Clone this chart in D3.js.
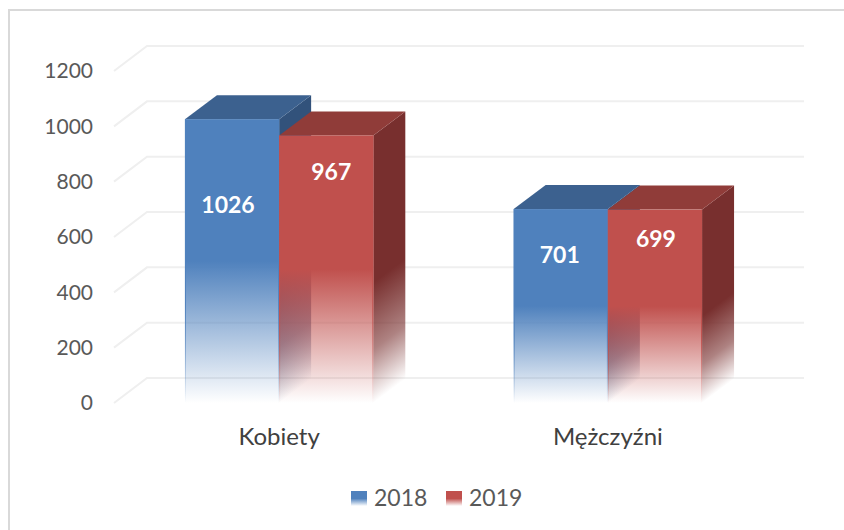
<!DOCTYPE html>
<html>
<head>
<meta charset="utf-8">
<script src="https://cdn.jsdelivr.net/npm/d3@7"></script>
<style>
  html, body { margin: 0; padding: 0; background: #fff; }
  svg { display: block; font-family: Lato, "Open Sans", sans-serif; }
</style>
</head>
<body>
<svg width="844" height="530"></svg>
<script>
// data
const categories = ["Kobiety", "Mężczyźni"];
const seriesNames = ["2018", "2019"];
const values2018 = [1026, 701];
const values2019 = [967, 699];
const yTicks = [0, 200, 400, 600, 800, 1000, 1200];

const series = [
  { name: seriesNames[0], values: values2018, front: "#4f81bd", top: "#3c618f", side: "#32527b" },
  { name: seriesNames[1], values: values2019, front: "#c0504d", top: "#903c39", side: "#782f2e" }
];

// labels were nudged by hand in the original, [dx, dy] from top centre of each bar
const labelNudge2018 = [[-4, 88], [-1, 48]];
const labelNudge2019 = [[5, 39], [1, 31]];
const labelNudge = [labelNudge2018, labelNudge2019];

const svg = d3.select("svg");
const defs = svg.append("defs");

// depth of the fake 3d box
const gridDepthX = 33, gridDepthY = 25;
const depthX = 32, depthY = 24;
const left = 114, gridRight = 804;

const y = d3.scaleLinear().domain([0, 1200]).range([403, 71]);
const x0 = d3.scaleBand().domain(categories).range([left, 773]).paddingInner(0.427).paddingOuter(0.2158);
const x1 = d3.scaleBand().domain(seriesNames).range([0, x0.bandwidth()]);

// border
svg.append("path")
  .attr("d", "M9,530 V10 H844")
  .attr("fill", "none")
  .attr("stroke", "#d9d9d9")
  .attr("stroke-width", 2);

// gradients, solid for the top half then fading out
function fade(id, color, stop, mid) {
  const g = defs.append("linearGradient").attr("id", id).attr("x1", 0).attr("y1", 0).attr("x2", 0).attr("y2", 1);
  g.append("stop").attr("offset", stop).attr("stop-color", color).attr("stop-opacity", 1);
  if (mid) g.append("stop").attr("offset", mid).attr("stop-color", color).attr("stop-opacity", 0.6);
  g.append("stop").attr("offset", 1).attr("stop-color", color).attr("stop-opacity", 0);
}
series.forEach((s, i) => {
  fade("front" + i, s.front, 0.5);
  fade("edge" + i, s.front, 0.65);
  fade("side" + i, s.side, 0.55, 0.8);
});

// grid lines, front-left stub and back wall
const grid = svg.append("g").attr("fill", "none").attr("stroke", "#efefef").attr("stroke-width", 2);
grid.selectAll("path").data(yTicks).join("path")
  .attr("d", d => `M${left},${y(d)} L${left + gridDepthX},${y(d) - gridDepthY} H${gridRight}`);

// axis labels
const yAxis = d3.axisLeft(y).tickValues(yTicks).tickFormat(d3.format("d")).tickSize(0).tickPadding(21);
const yG = svg.append("g").attr("transform", `translate(${left},0)`).call(yAxis);
yG.select(".domain").remove();
yG.selectAll("text").attr("font-size", 21).attr("font-family", "Lato").attr("fill", "#595959");

const xAxis = d3.axisBottom(x0).tickSize(0).tickPadding(25);
const xG = svg.append("g").attr("transform", `translate(0,${y(0)})`).call(xAxis);
xG.select(".domain").remove();
xG.selectAll("text").attr("font-size", 24).attr("font-family", "Lato").attr("fill", "#404040");

// bars
const barsG = svg.append("g");
categories.forEach((cat, c) => {
  series.forEach((s, i) => {
    const v = s.values[c];
    const bx = x0(cat) + x1(s.name);
    const bw = x1.bandwidth();
    const by = y(v);
    const bh = y(0) - by;
    const g = barsG.append("g");

    // right side face, sheared rect so that the fade follows the bottom edge
    g.append("rect")
      .attr("transform", `matrix(1,${-depthY / depthX},0,1,${bx + bw},${by})`)
      .attr("width", depthX)
      .attr("height", bh)
      .attr("fill", `url(#side${i})`);

    // top face
    g.append("path")
      .attr("d", `M${bx},${by} l${depthX},${-depthY} h${bw} l${-depthX},${depthY} Z`)
      .attr("fill", s.top);

    // front face
    g.append("rect")
      .attr("x", bx).attr("y", by)
      .attr("width", bw).attr("height", bh)
      .attr("fill", `url(#front${i})`);

    // thin edges stay visible a bit longer in the fade
    g.append("rect")
      .attr("x", bx).attr("y", by)
      .attr("width", 1).attr("height", bh)
      .attr("fill", `url(#edge${i})`);
    g.append("rect")
      .attr("x", bx + bw - 1).attr("y", by)
      .attr("width", 1).attr("height", bh)
      .attr("fill", `url(#edge${i})`);
  });
});

// value labels go last, the neighbour bar must not cover them
categories.forEach((cat, c) => {
  series.forEach((s, i) => {
    barsG.append("text")
      .attr("x", x0(cat) + x1(s.name) + x1.bandwidth() / 2 + labelNudge[i][c][0])
      .attr("y", y(s.values[c]) + labelNudge[i][c][1])
      .attr("text-anchor", "middle")
      .attr("dominant-baseline", "middle")
      .attr("font-size", 23)
      .attr("font-weight", 700)
      .attr("fill", "#fff")
      .text(s.values[c]);
  });
});

// legend
const legend = svg.append("g");
const keyX = d3.scalePoint().domain(seriesNames).range([351, 446]);
series.forEach((s, i) => {
  legend.append("rect")
    .attr("x", keyX(s.name)).attr("y", 491)
    .attr("width", 16).attr("height", 15)
    .attr("fill", `url(#front${i})`);
  legend.append("text")
    .attr("x", keyX(s.name) + 23).attr("y", 506)
    .attr("font-size", 23)
    .attr("fill", "#595959")
    .text(s.name);
});
</script>
</body>
</html>
